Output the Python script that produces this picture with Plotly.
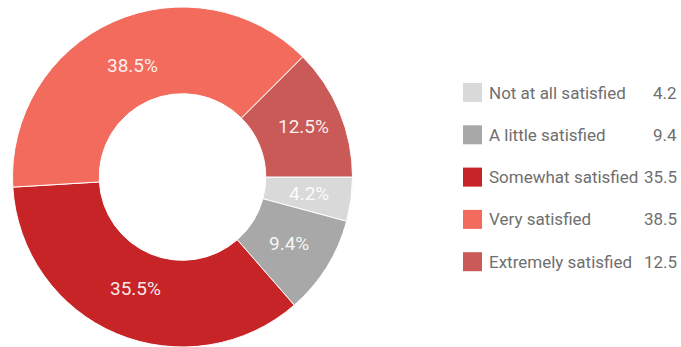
import math
import plotly.graph_objects as go

categories = ["Not at all satisfied", "A little satisfied", "Somewhat satisfied",
              "Very satisfied", "Extremely satisfied"]
values = [4.2, 9.4, 35.5, 38.5, 12.5]
value_labels = ["4.2", "9.4", "35.5", "38.5", "12.5"]
colors = ["#d9d9d9", "#a8a8a8", "#c62427", "#f26b5c", "#c95a57"]

W, H = 681, 347
FONT = "Roboto"
TXT = "rgba(255,255,255,0.92)"

# pie geometry in pixels
px0, px1, py_top, py_bot = 12, 353, 7, 347
cx, cy = (px0 + px1) / 2, (py_top + py_bot) / 2
R = (px1 - px0) / 2
ROT = 90
HOLE = 0.49
# radial placement of each slice label, as a fraction of outer radius (style)
label_r = [0.75, 0.74, 0.71, 0.72, 0.77]

fig = go.Figure()
fig.add_trace(go.Pie(
    labels=categories, values=values, sort=False, direction="clockwise",
    rotation=ROT, hole=HOLE,
    marker=dict(colors=colors, line=dict(color="white", width=1)),
    textinfo="none",
    domain=dict(x=[px0 / W, px1 / W], y=[1 - py_bot / H, 1 - py_top / H]),
    showlegend=False, hoverinfo="label+value",
))

shapes = []
annotations = []
total = sum(values)
cum = 0
for v, fr in zip(values, label_r):
    mid = cum + v / 2
    cum += v
    theta = math.radians(ROT - 90 + 360 * mid / total)  # clockwise from 3 o'clock (screen)
    r = R * fr
    x = cx + r * math.cos(theta)
    y = cy + r * math.sin(theta)
    annotations.append(dict(text=f"{v:.1f}%", x=x / W, y=1 - y / H, xref="paper", yref="paper",
                            xanchor="center", yanchor="middle", showarrow=False,
                            font=dict(family=FONT, size=19, color=TXT)))

for i, (cat, lab, col) in enumerate(zip(categories, value_labels, colors)):
    yc = 92.5 + i * 42.3
    shapes.append(dict(type="rect", xref="paper", yref="paper",
                       x0=463 / W, x1=482 / W,
                       y0=1 - (yc + 9.5) / H, y1=1 - (yc - 9.5) / H,
                       fillcolor=col, line=dict(width=0)))
    annotations.append(dict(text=cat, x=487 / W, y=1 - yc / H, xref="paper", yref="paper",
                            xanchor="left", yanchor="middle", showarrow=False,
                            font=dict(family=FONT, size=17, color="#6f6f6f")))
    annotations.append(dict(text=lab, x=679 / W, y=1 - yc / H, xref="paper", yref="paper",
                            xanchor="right", yanchor="middle", showarrow=False,
                            font=dict(family=FONT, size=17, color="#6f6f6f")))

fig.update_layout(
    width=W, height=H, margin=dict(l=0, r=0, t=0, b=0),
    paper_bgcolor="white", plot_bgcolor="white",
    shapes=shapes, annotations=annotations,
)
fig.write_html("out.html", config={"displayModeBar": False},
               post_script="document.body.style.margin='0';document.body.style.overflow='hidden';")
